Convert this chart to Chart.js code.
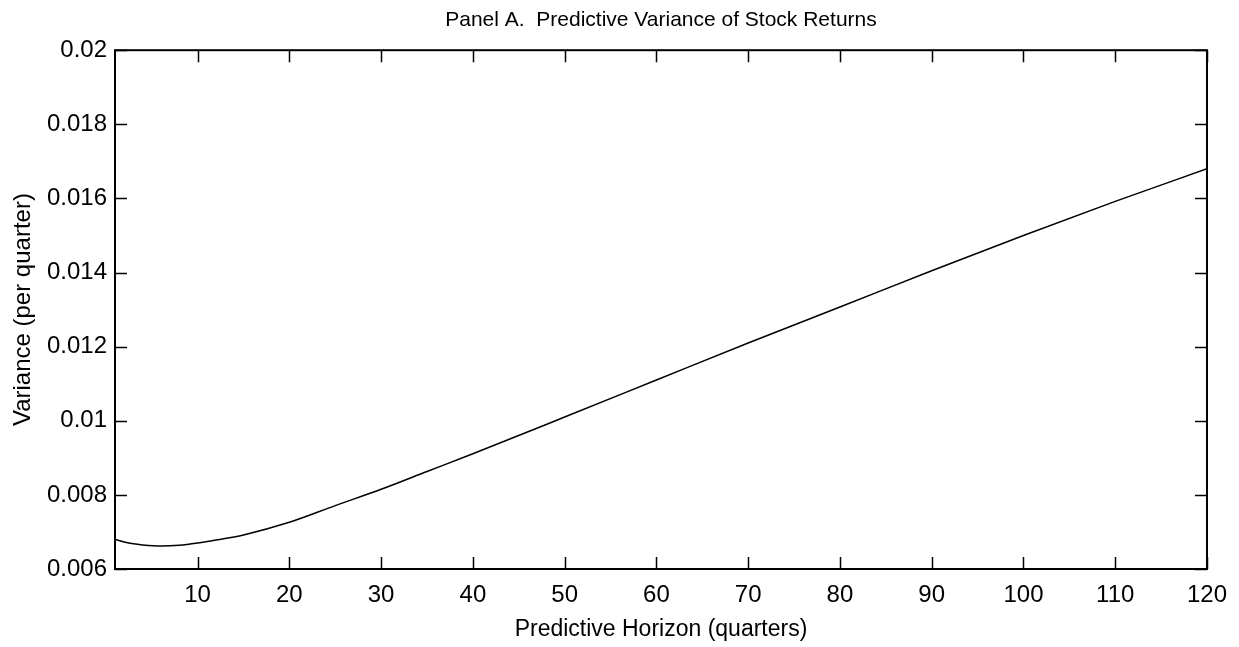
<!DOCTYPE html>
<html>
<head>
<meta charset="utf-8">
<script src="https://cdn.jsdelivr.net/npm/chart.js@4.4.1/dist/chart.umd.min.js"></script>
<style>
  html, body { margin: 0; padding: 0; background: #fff; }
  #wrap { width: 1239px; height: 647px; }
</style>
</head>
<body>
<div id="wrap"><canvas id="grafik" width="1239" height="647"></canvas></div>
<script>
// =====================================================
// DATA
// =====================================================
const horizon = [1, 2, 3, 4, 6, 8, 10, 12, 15, 20, 25, 30, 35, 40, 50, 60, 70, 80, 90, 100, 110, 120];
const varians = [0.00680, 0.00673, 0.00668, 0.00665, 0.00662, 0.00664, 0.00670, 0.00678, 0.00692,
                 0.00726, 0.00771, 0.00815, 0.00863, 0.00911, 0.01010, 0.01110, 0.01210, 0.01307,
                 0.01405, 0.01500, 0.01592, 0.01680];
const xTicks = [10, 20, 30, 40, 50, 60, 70, 80, 90, 100, 110, 120];
const yTicks = [0.006, 0.008, 0.010, 0.012, 0.014, 0.016, 0.018, 0.020];

const FONT = '"Liberation Sans", Arial, Helvetica, sans-serif';

// =====================================================
// PLUGIN: bingkai + tick ke dalam (seperti MATLAB)
// =====================================================
const bingkai = {
    id: 'bingkai',
    afterDraw(chart) {
        const { ctx, chartArea: a, scales } = chart;
        const len = 12;
        ctx.save();
        ctx.strokeStyle = '#000';
        ctx.lineWidth = 1.5;
        ctx.beginPath();
        xTicks.forEach(v => {
            const px = Math.round(scales.x.getPixelForValue(v)) + 0.5;
            ctx.moveTo(px, a.bottom); ctx.lineTo(px, a.bottom - len);
            ctx.moveTo(px, a.top); ctx.lineTo(px, a.top + len);
        });
        yTicks.forEach(v => {
            const py = Math.round(scales.y.getPixelForValue(v)) + 0.5;
            ctx.moveTo(a.left, py); ctx.lineTo(a.left + len, py);
            ctx.moveTo(a.right, py); ctx.lineTo(a.right - len, py);
        });
        ctx.stroke();
        ctx.lineWidth = 2;
        ctx.strokeRect(a.left, a.top, a.right - a.left, a.bottom - a.top);
        ctx.restore();
    }
};

new Chart(document.getElementById('grafik'), {
    type: 'line',
    data: {
        datasets: [{
            data: horizon.map((h, i) => ({ x: h, y: varians[i] })),
            borderColor: '#000',
            borderWidth: 1.5,
            pointRadius: 0,
            cubicInterpolationMode: 'monotone',
            fill: false
        }]
    },
    options: {
        responsive: false,
        animation: false,
        layout: { padding: { left: 0, right: 32, top: 0, bottom: 0 } },
        plugins: {
            legend: { display: false },
            tooltip: { enabled: false },
            title: {
                display: true,
                fullSize: false,
                text: 'Panel A.  Predictive Variance of Stock Returns',
                color: '#000',
                font: { family: FONT, size: 21, weight: 'normal' },
                padding: { top: 8, bottom: 17 }
            }
        },
        scales: {
            x: {
                type: 'linear',
                min: 1,
                max: 120,
                grid: { display: false, drawTicks: false },
                border: { display: false },
                afterBuildTicks: s => { s.ticks = xTicks.map(v => ({ value: v })); },
                afterFit: s => { s.height = 78; },
                ticks: {
                    color: '#000',
                    padding: 12,
                    maxRotation: 0,
                    font: { family: FONT, size: 24 }
                },
                title: {
                    display: true,
                    text: 'Predictive Horizon (quarters)',
                    color: '#000',
                    font: { family: FONT, size: 23 },
                    padding: { top: 0, bottom: 4 }
                }
            },
            y: {
                min: 0.006,
                max: 0.02,
                grid: { display: false, drawTicks: false },
                border: { display: false },
                afterBuildTicks: s => { s.ticks = yTicks.map(v => ({ value: v })); },
                afterFit: s => { s.width = 115; },
                ticks: {
                    color: '#000',
                    padding: 8,
                    font: { family: FONT, size: 24 },
                    callback: v => String(+Number(v).toFixed(3))
                },
                title: {
                    display: true,
                    text: 'Variance (per quarter)',
                    color: '#000',
                    font: { family: FONT, size: 24 },
                    padding: { top: 9, bottom: 0 }
                }
            }
        }
    },
    plugins: [bingkai]
});
</script>
</body>
</html>
